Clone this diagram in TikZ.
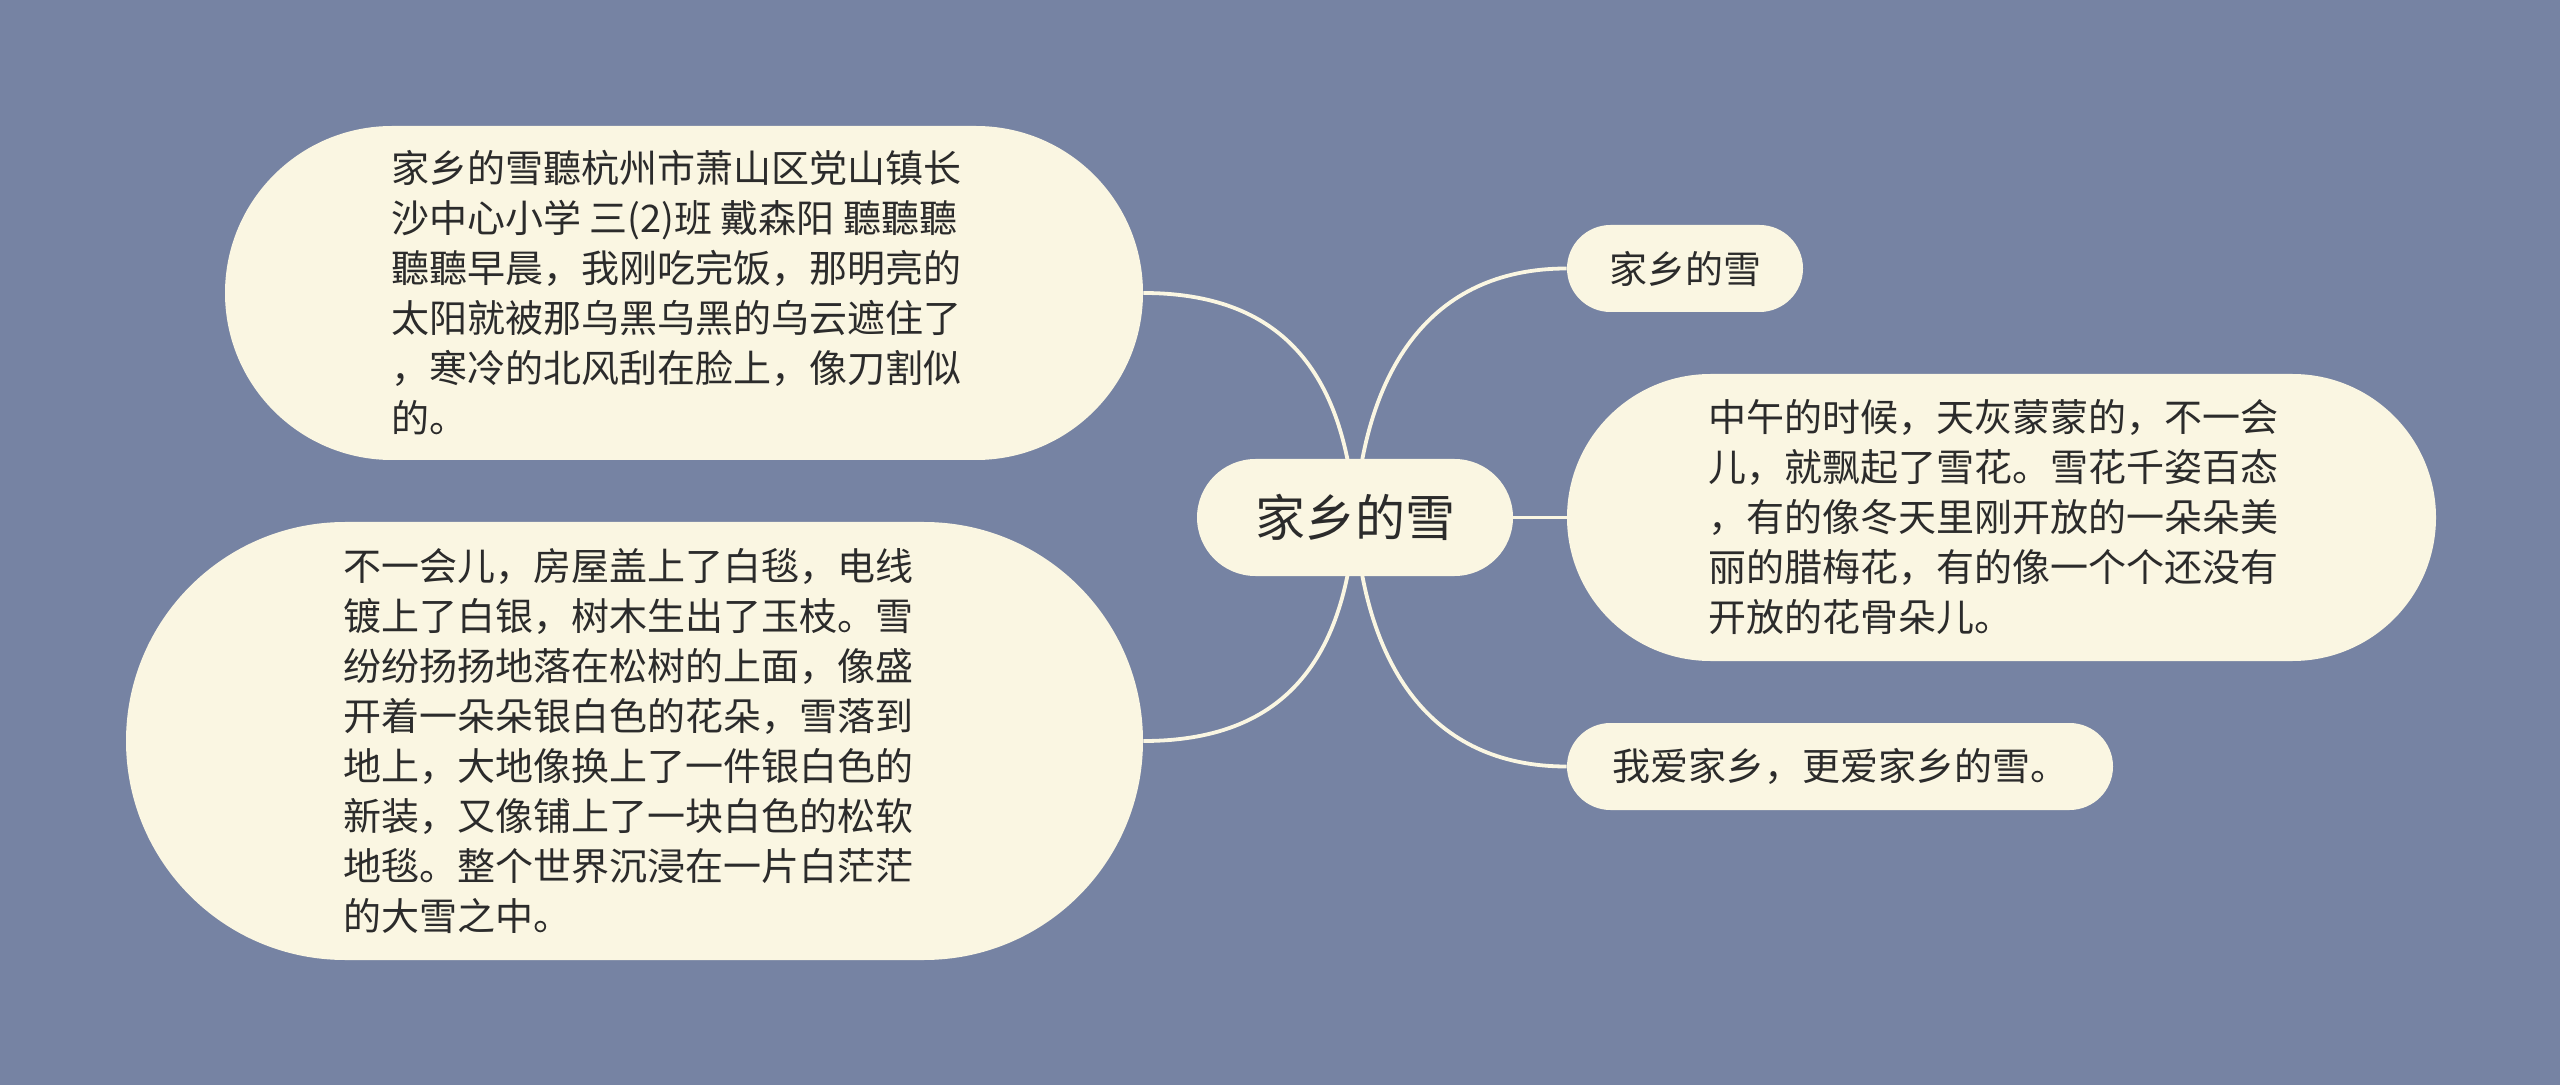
\documentclass[tikz,border=0pt]{standalone}
\usepackage{fontspec}
\setmainfont{Noto Sans CJK SC}
\usetikzlibrary{shapes.misc,calc}
\definecolor{bgc}{HTML}{7683A3}
\definecolor{nodefill}{HTML}{FAF6E2}
\definecolor{linec}{HTML}{FAF6E2}
\definecolor{txt}{HTML}{2B2B2B}
\pgfdeclarelayer{background}
\pgfsetlayers{background,main}
\tikzset{
  bubble/.style={rounded rectangle, fill=nodefill, text=txt, inner sep=0pt, align=left,
    font=\fontsize{19pt}{25pt}\selectfont},
  rootbubble/.style={rounded rectangle, fill=nodefill, text=txt, inner sep=0pt,
    font=\fontsize{25pt}{30pt}\selectfont},
  conn/.style={draw=linec, line width=1.9pt}
}
\begin{document}
\begin{tikzpicture}[x=0.5pt,y=-0.5pt]
\begin{pgfonlayer}{background}
\fill[bgc] (0,0) rectangle (2560,1085);
\end{pgfonlayer}
\useasboundingbox (0,0) rectangle (2560,1085);

\node[rootbubble, minimum width=158pt, minimum height=58.5pt] (c) at (1355,517.5) {家乡的雪};

\node[bubble, minimum width=459pt, minimum height=167pt] (lt) at (684,293)
{家乡的雪聽杭州市萧山区党山镇长\hspace*{8pt}\\
沙中心小学 三(2)班 戴森阳 聽聽聽\\
聽聽早晨，我刚吃完饭，那明亮的\\
太阳就被那乌黑乌黑的乌云遮住了\\
，寒冷的北风刮在脸上，像刀割似\\
的。};

\node[bubble, minimum width=508.5pt, minimum height=219pt] (lb) at (634.5,741)
{不一会儿，房屋盖上了白毯，电线\hspace*{6.5pt}\\
镀上了白银，树木生出了玉枝。雪\\
纷纷扬扬地落在松树的上面，像盛\\
开着一朵朵银白色的花朵，雪落到\\
地上，大地像换上了一件银白色的\\
新装，又像铺上了一块白色的松软\\
地毯。整个世界沉浸在一片白茫茫\\
的大雪之中。};

\node[bubble, minimum width=118pt, minimum height=43.5pt] (rt) at (1685,268.5) {家乡的雪};

\node[bubble, minimum width=434.5pt, minimum height=143.5pt] (rm) at (2001.5,517.5)
{中午的时候，天灰蒙蒙的，不一会\hspace*{8pt}\\
儿，就飘起了雪花。雪花千姿百态\\
，有的像冬天里刚开放的一朵朵美\\
丽的腊梅花，有的像一个个还没有\\
开放的花骨朵儿。};

\node[bubble, minimum width=273pt, minimum height=43.5pt] (rb) at (1840,766.5) {我爱家乡，更爱家乡的雪。};

\begin{pgfonlayer}{background}
\draw[conn] (lt.east) .. controls +(137,0) and +(-10,-147) .. (c.center);
\draw[conn] (rt.west) .. controls +(-137,0) and +(10,-147) .. (c.center);
\draw[conn] (lb.east) .. controls +(137,0) and +(-10,147) .. (c.center);
\draw[conn] (rb.west) .. controls +(-137,0) and +(10,147) .. (c.center);
\draw[conn] (c.center) -- (rm.west);
\end{pgfonlayer}
\end{tikzpicture}
\end{document}
